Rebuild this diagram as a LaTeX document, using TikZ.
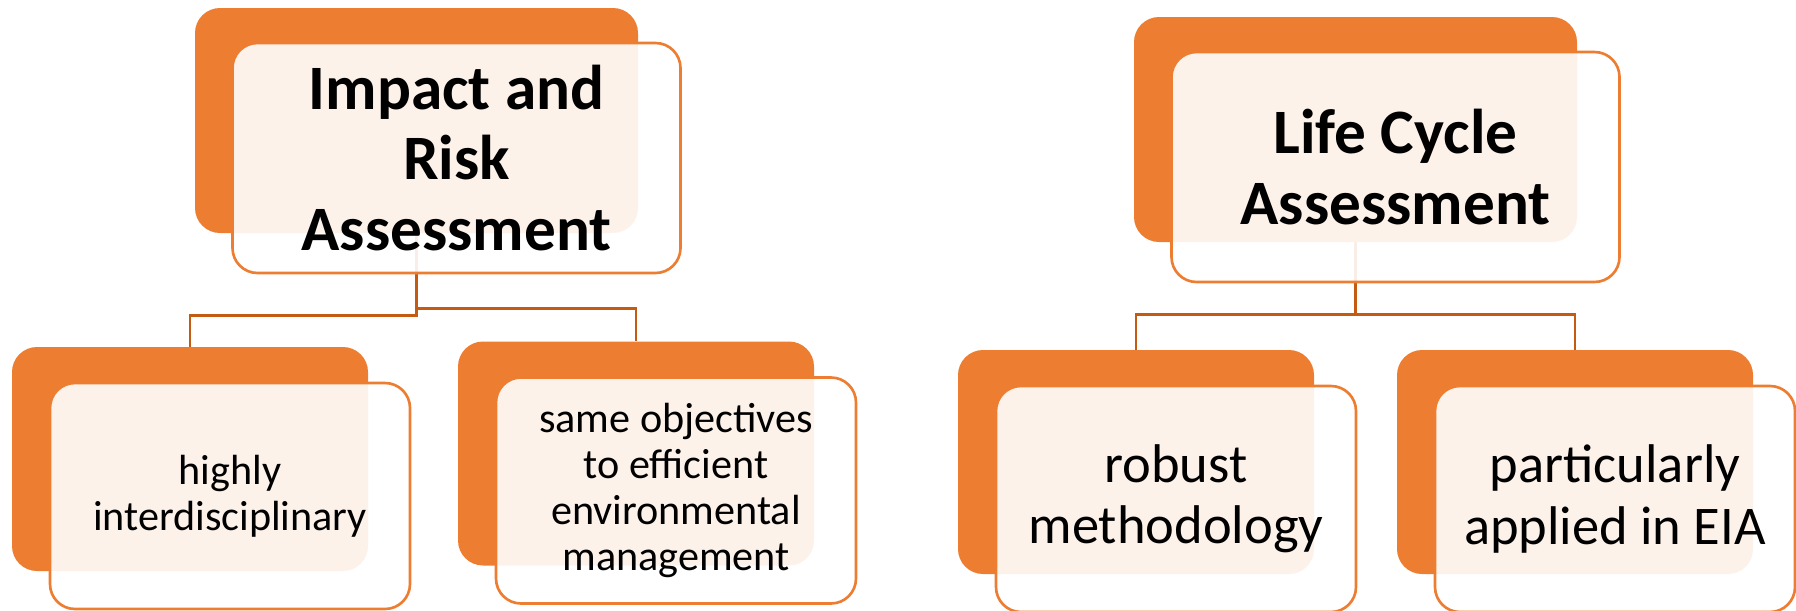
\documentclass[tikz,border=0pt]{standalone}
\usepackage{fontspec}
\setmainfont{Carlito}
\usetikzlibrary{backgrounds}
\definecolor{boxorange}{HTML}{ED7D31}
\definecolor{linkbrown}{HTML}{C55A11}
\tikzset{
  backbox/.style={fill=boxorange, rounded corners=0.5cm, inner sep=0pt, minimum width=7.12cm, minimum height=4.48cm},
  frontbox/.style={draw=boxorange, line width=1.5pt, fill=white, fill opacity=0.9, text opacity=1,
    rounded corners=0.5cm, inner sep=0pt, minimum width=7.2cm, minimum height=4.52cm, align=center},
  headback/.style={backbox, minimum width=8.86cm, minimum height=4.5cm},
  headfront/.style={frontbox, minimum width=8.96cm, minimum height=4.6cm, font=\fontsize{36}{40}\selectfont\bfseries},
  smalltext/.style={font=\fontsize{24}{26}\selectfont},
  largetext/.style={font=\fontsize{31}{35}\selectfont},
  link/.style={draw=linkbrown, line width=1.5pt}
}
\begin{document}
\begin{tikzpicture}
\useasboundingbox (0,0) rectangle (35.92,-12.2);
% heads
\node[headback] (irab) at (8.33,-2.41) {};
\node[headfront] (ira) at ([shift={(0.8,-0.75)}]irab.center) {Impact and\\Risk\\Assessment};
\node[headback] (lcab) at (27.11,-2.59) {};
\node[headfront] (lca) at ([shift={(0.8,-0.75)}]lcab.center) {Life Cycle\\Assessment};
% children
\node[backbox] (hib) at (3.8,-9.18) {};
\node[frontbox, smalltext] (hi) at ([shift={(0.8,-0.74)}]hib.center) {highly\\interdisciplinary};
\node[backbox] (sob) at (12.72,-9.07) {};
\node[frontbox, smalltext] (so) at ([shift={(0.8,-0.74)}]sob.center) {same objectives\\to efficient\\environmental\\management};
\node[backbox] (rmb) at (22.72,-9.24) {};
\node[frontbox, largetext] (rm) at ([shift={(0.8,-0.74)}]rmb.center) {robust\\methodology};
\node[backbox] (pab) at (31.5,-9.24) {};
\node[frontbox, largetext] (pa) at ([shift={(0.8,-0.74)}]pab.center) {particularly\\applied in EIA};
\begin{scope}[on background layer]
\draw[link] (irab.south) -- ++(0,-1.64) -| (hib.north);
\draw[link] (irab.south) -- ++(0,-1.5) -| (sob.north);
\draw[link] (lcab.south) -- ++(0,-1.44) -| (rmb.north);
\draw[link] (lcab.south) -- ++(0,-1.44) -| (pab.north);
\end{scope}
\end{tikzpicture}
\end{document}
